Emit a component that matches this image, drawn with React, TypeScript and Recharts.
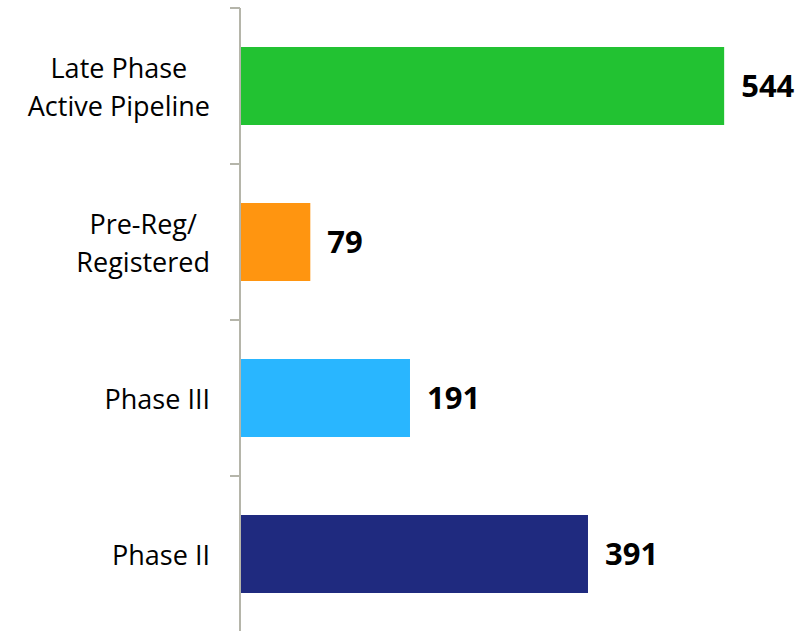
import { BarChart, Bar, XAxis, YAxis, Cell, LabelList } from 'recharts';

const categories = ['Late Phase|Active Pipeline', 'Pre-Reg/|Registered', 'Phase III', 'Phase II'];
const counts = [544, 79, 191, 391];
const colors = ['#22C232', '#FF9510', '#29B6FF', '#1F2A7F'];

const data = categories.map((name, i) => ({ name, value: counts[i] }));

const W = 811;
const H = 640;
const M = { top: 8, right: 37, bottom: 8, left: 0 };
const BAND = (H - M.top - M.bottom) / categories.length;
const AXIS_COLOR = '#B5B5AA';
const FONT = '"Open Sans", sans-serif';
const LABEL_SIZE = 27;

let ctx: CanvasRenderingContext2D | null = null;
function textWidth(s: string) {
  if (!ctx) ctx = document.createElement('canvas').getContext('2d');
  if (!ctx) return s.length * LABEL_SIZE * 0.5;
  ctx.font = `${LABEL_SIZE}px ${FONT}`;
  return ctx.measureText(s).width;
}

function CategoryTick(props: any) {
  const { x, y, payload, index } = props;
  const lines = String(payload.value).split('|');
  const lineH = 38;
  const start = y - ((lines.length - 1) * lineH) / 2;
  const axisX = x + 30;
  // multi-line labels are centred within their block, block right-aligned
  const blockW = Math.max(...lines.map(textWidth));
  const cx = x - blockW / 2;
  return (
    <g>
      <line x1={axisX - 10} x2={axisX} y1={y - BAND / 2} y2={y - BAND / 2} stroke={AXIS_COLOR} strokeWidth={2} />
      {index === categories.length - 1 && (
        <line x1={axisX - 10} x2={axisX} y1={y + BAND / 2} y2={y + BAND / 2} stroke={AXIS_COLOR} strokeWidth={2} />
      )}
      <text textAnchor="middle" fontFamily={FONT} fontSize={LABEL_SIZE} fill="#000">
        {lines.map((l, i) => (
          <tspan key={i} x={cx} y={start + i * lineH} dominantBaseline="central">{l}</tspan>
        ))}
      </text>
    </g>
  );
}

export default function App() {
  return (
    <div style={{ position: 'absolute', left: 0, top: 0, width: W, height: 631, overflow: 'hidden', background: '#fff' }}>
      <BarChart width={W} height={H} data={data} layout="vertical" margin={M} barCategoryGap="25%">
        <XAxis type="number" domain={[0, 600]} hide />
        <YAxis
          type="category"
          dataKey="name"
          width={240}
          axisLine={{ stroke: AXIS_COLOR, strokeWidth: 2 }}
          tickLine={false}
          tickSize={10}
          tickMargin={20}
          tick={<CategoryTick />}
          interval={0}
        />
        <Bar dataKey="value" isAnimationActive={false}>
          {data.map((_, i) => <Cell key={i} fill={colors[i]} />)}
          <LabelList dataKey="value" position="right" offset={17} fill="#000" fontSize={31} fontWeight="bold" fontFamily={FONT} />
        </Bar>
      </BarChart>
    </div>
  );
}
